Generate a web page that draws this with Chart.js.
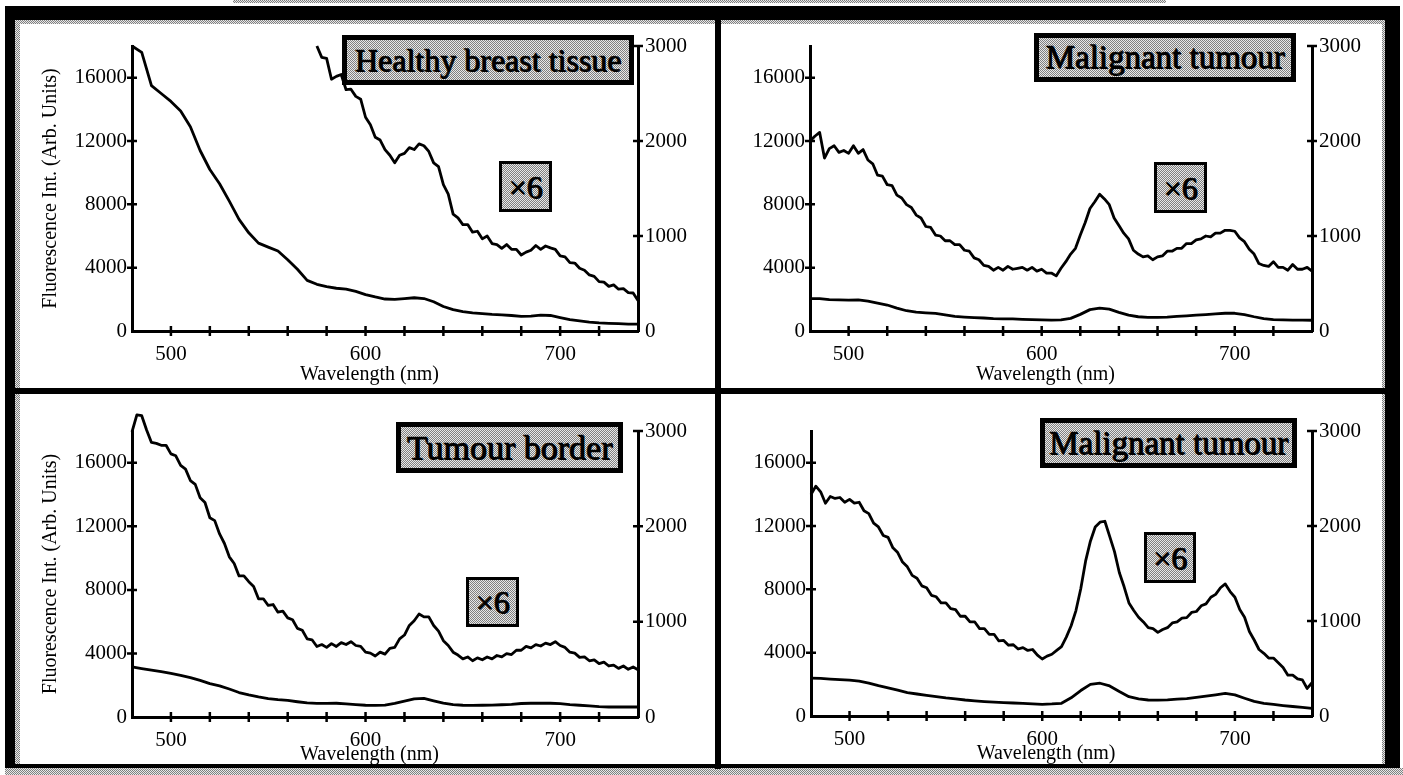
<!DOCTYPE html>
<html><head><meta charset="utf-8">
<script src="https://cdn.jsdelivr.net/npm/chart.js@4.4.1/dist/chart.umd.min.js"></script>
<style>
html,body{margin:0;padding:0}
body{width:1403px;height:775px;position:relative;overflow:hidden;background:#fff;font-family:"Liberation Serif","Times New Roman",serif}
.abs{position:absolute}
.ht{background-color:#b8b8b8;background-image:repeating-conic-gradient(#808080 0% 25%,#e8e8e8 0% 50%);background-size:2px 2px}
.blk{background:#000}
.pnl{background:#fff}
canvas{position:absolute;z-index:2}
.lbl{position:absolute;z-index:3;box-sizing:border-box;border:5px solid #000;display:flex;align-items:center;justify-content:center;font-family:"Liberation Serif","Times New Roman",serif;color:#000;white-space:nowrap;-webkit-text-stroke:0.4px #000;text-shadow:1px 1px 0 #000;line-height:1}
.x6{border-width:3px;font-size:32px}
</style></head>
<body>
<div class="abs ht" style="left:233px;top:0;width:933px;height:3px"></div>
<div class="abs blk" style="left:5px;top:6px;width:1395px;height:763px"></div>
<div class="abs ht" style="left:15px;top:20px;width:1370px;height:749px"></div>
<div class="abs ht" style="left:5px;top:768px;width:1398px;height:7px"></div>
<div class="abs blk" style="left:715px;top:20px;width:6px;height:749px"></div>
<div class="abs blk" style="left:15px;top:388px;width:1370px;height:6px"></div>
<div class="abs blk" style="left:15px;top:764px;width:1370px;height:4px"></div>
<div class="abs pnl" style="left:20px;top:24px;width:695px;height:364px"></div>
<div class="abs pnl" style="left:721px;top:24px;width:661px;height:364px"></div>
<div class="abs pnl" style="left:20px;top:394px;width:695px;height:370px"></div>
<div class="abs pnl" style="left:721px;top:394px;width:661px;height:370px"></div>

<canvas id="c1" width="695" height="364" style="left:20px;top:24px"></canvas>
<canvas id="c2" width="661" height="364" style="left:721px;top:24px"></canvas>
<canvas id="c3" width="695" height="370" style="left:20px;top:394px"></canvas>
<canvas id="c4" width="661" height="370" style="left:721px;top:394px"></canvas>

<div class="lbl ht" style="left:342px;top:35px;width:292px;height:50px;font-size:32px">Healthy breast tissue</div>
<div class="lbl ht x6" style="left:499px;top:161px;width:53px;height:51px">×6</div>
<div class="lbl ht" style="left:1034px;top:33px;width:262px;height:49px;font-size:33px">Malignant tumour</div>
<div class="lbl ht x6" style="left:1154px;top:162px;width:53px;height:51px">×6</div>
<div class="lbl ht" style="left:396px;top:422px;width:227px;height:51px;font-size:34px">Tumour border</div>
<div class="lbl ht x6" style="left:466px;top:577px;width:53px;height:50px">×6</div>
<div class="lbl ht" style="left:1040px;top:418px;width:257px;height:50px;font-size:33px">Malignant tumour</div>
<div class="lbl ht x6" style="left:1144px;top:532px;width:52px;height:51px">×6</div>

<script>
// ---------- DATA ----------
const xTitle = 'Wavelength (nm)';
const yTitle = 'Fluorescence Int. (Arb. Units)';
const xRange = [480, 740];
const yLeftRange = [0, 18000];
const yRightRange = [0, 3000];
const xTicks = [480,500,520,540,560,580,600,620,640,660,680,700,720,740];
const xTickLabels = [500, 600, 700];
const yLeftTicks = [0, 4000, 8000, 12000, 16000];
const yRightTicks = [0, 1000, 2000, 3000];

// wavelength grid for the smooth (unscaled) spectra
const wlMain = [480,485,490,495,500,505,510,515,520,525,530,535,540,545,550,555,560,565,570,575,580,585,590,595,600,605,610,615,620,625,630,635,640,645,650,655,660,665,670,675,680,685,690,695,700,705,710,715,720,725,730,735,740];
// wavelength grid for the noisy x6 spectra
const wlFine = [480,482.5,485,487.5,490,492.5,495,497.5,500,502.5,
505,507.5,510,512.5,515,517.5,520,522.5,525,527.5,
530,532.5,535,537.5,540,542.5,545,547.5,550,552.5,
555,557.5,560,562.5,565,567.5,570,572.5,575,577.5,
580,582.5,585,587.5,590,592.5,595,597.5,600,602.5,
605,607.5,610,612.5,615,617.5,620,622.5,625,627.5,
630,632.5,635,637.5,640,642.5,645,647.5,650,652.5,
655,657.5,660,662.5,665,667.5,670,672.5,675,677.5,
680,682.5,685,687.5,690,692.5,695,697.5,700,702.5,
705,707.5,710,712.5,715,717.5,720,722.5,725,727.5,
730,732.5,735,737.5,740];

// Panel 1: Healthy breast tissue
const healthyMain = [18000,17600,15500,15000,14500,13900,12900,11400,10200,9300,8200,7050,6200,5550,5300,5050,4500,3900,3200,2950,2800,2700,2650,2500,2300,2150,2020,2000,2050,2100,2050,1850,1550,1350,1230,1150,1100,1050,1020,980,920,940,1000,980,850,720,640,560,510,480,460,440,430];
const healthyX6 = [null,null,null,null,null,null,null,null,null,null,
null,null,null,null,null,null,null,null,null,null,
null,null,null,null,null,null,null,null,null,null,
null,null,null,null,null,null,null,null,
3000,2880,2870,2650,2680,2700,2540,2545,2470,2440,
2250,2170,2040,2010,1910,1850,1770,1850,1870,1930,
1910,1970,1950,1890,1770,1730,1540,1440,1230,1190,
1120,1120,1040,1050,970,1000,920,910,870,910,
860,860,800,830,850,900,860,895,875,860,
790,780,720,715,660,640,590,575,520,515,
470,485,440,445,405,400,320];

// Panel 2: Malignant tumour (top)
const malig1Main = [2050,2050,1980,1960,1950,1960,1880,1760,1640,1450,1280,1190,1150,1110,1020,920,880,850,820,780,770,760,740,720,700,690,700,800,1050,1350,1450,1380,1180,1000,900,860,860,880,920,960,1000,1040,1080,1120,1120,1040,900,780,720,700,690,690,680];
const malig1X6 = [2000,2050,2090,1820,1920,1950,1880,1900,1870,1950,
1870,1910,1800,1760,1640,1630,1540,1530,1430,1400,
1330,1300,1220,1190,1100,1090,1010,1000,950,950,
910,910,850,840,770,750,690,680,640,670,
640,680,650,660,670,640,670,630,650,610,
610,580,660,730,810,870,1010,1140,1290,1360,
1440,1390,1330,1190,1110,1030,970,850,810,780,
790,750,780,790,840,840,870,870,920,920,
960,970,1000,990,1030,1030,1060,1060,1050,980,
940,860,810,710,690,680,730,670,670,640,
700,650,650,670,630];

// Panel 3: Tumour border
const borderMain = [3160,3050,2950,2850,2740,2620,2480,2300,2100,1960,1760,1540,1390,1260,1160,1090,1040,960,890,860,860,865,830,780,740,730,745,860,1000,1140,1170,1020,880,780,740,735,740,745,770,800,850,865,865,865,840,780,740,700,650,630,630,630,630];
const borderX6 = [2990,3170,3160,3010,2880,2870,2850,2850,2760,2740,
2640,2600,2480,2440,2300,2250,2090,2060,1920,1820,
1680,1610,1480,1480,1420,1370,1240,1240,1170,1180,
1100,1110,1040,1020,930,910,820,810,740,760,
730,770,740,780,760,790,750,740,680,670,
640,680,660,720,730,820,860,960,1010,1080,
1050,1050,960,900,800,750,680,650,610,630,
590,620,600,630,610,645,630,665,655,700,
700,740,725,760,745,775,760,790,750,730,
680,670,625,630,590,600,560,575,535,545,
510,535,500,525,495];

// Panel 4: Malignant tumour (bottom)
const malig2Main = [2390,2370,2330,2300,2270,2200,2080,1920,1780,1630,1480,1390,1300,1220,1140,1080,1010,960,910,870,840,820,800,770,740,760,800,1150,1610,2000,2070,1900,1550,1220,1080,1010,1000,1020,1060,1100,1170,1250,1340,1430,1330,1120,920,800,730,660,600,540,480];
const malig2X6 = [2330,2420,2360,2240,2310,2290,2300,2250,2280,2240,
2250,2160,2130,2030,1990,1900,1880,1770,1720,1620,
1570,1480,1450,1370,1350,1270,1255,1190,1190,1130,
1120,1050,1050,990,990,920,920,860,860,790,
795,745,750,705,720,690,700,640,600,630,
650,690,730,830,950,1110,1340,1630,1840,1990,
2040,2050,1890,1730,1510,1360,1190,1110,1040,990,
930,920,880,910,930,980,990,1030,1035,1090,
1100,1160,1180,1250,1280,1350,1390,1310,1250,1120,
1040,890,800,700,660,610,610,560,510,430,
430,390,380,290,350];

// ---------- CHARTS ----------
const FONT = '"Liberation Serif", "Times New Roman", serif';

const crossTicks = {
  id: 'crossTicks',
  afterDraw(chart, args, opts) {
    const {ctx, chartArea: a, scales: {x, y, y2}} = chart;
    ctx.save();
    ctx.strokeStyle = '#000';
    ctx.lineWidth = 2.5;
    ctx.beginPath();
    x.ticks.forEach(t => {
      if (t.value <= x.min || t.value >= x.max) return;
      const px = x.getPixelForValue(t.value);
      ctx.moveTo(px, a.bottom - 5); ctx.lineTo(px, a.bottom + 5);
    });
    y.ticks.forEach(t => {
      if (t.value <= 0) return;
      const py = y.getPixelForValue(t.value);
      ctx.moveTo(a.left - 5, py); ctx.lineTo(a.left + 5, py);
    });
    y2.ticks.forEach(t => {
      if (t.value <= 0) return;
      const py = y2.getPixelForValue(t.value);
      ctx.moveTo(a.right - 5, py); ctx.lineTo(a.right + 5, py);
    });
    ctx.stroke();
    ctx.fillStyle = '#000';
    ctx.font = '20px ' + FONT;
    ctx.textAlign = 'center';
    ctx.textBaseline = 'middle';
    ctx.fillText(opts.title, x.getPixelForValue(opts.at), a.bottom + opts.gap);
    ctx.restore();
  }
};

const lineStyle = {borderColor: '#000', borderWidth: 2.8, pointRadius: 0, tension: 0, clip: false, spanGaps: false, borderJoinStyle: 'round', fill: false};
const setTicks = arr => s => { s.ticks = arr.map(v => ({value: v})); };

function build(id, main, x6, cfg) {
  return new Chart(document.getElementById(id), {
    type: 'line',
    data: {datasets: [
      Object.assign({data: wlMain.map((w, i) => ({x: w, y: main[i]})), yAxisID: 'y'}, lineStyle),
      Object.assign({data: wlFine.map((w, i) => ({x: w, y: x6[i]})), yAxisID: 'y2'}, lineStyle)
    ]},
    options: {
      responsive: false, animation: false, devicePixelRatio: 1,
      layout: {padding: {top: cfg.top, left: 0, right: 0, bottom: 0}},
      plugins: {legend: {display: false}, tooltip: {enabled: false},
        crossTicks: {title: xTitle, at: 602, gap: cfg.gap}},
      scales: {
        x: {type: 'linear', position: 'bottom', min: xRange[0], max: xRange[1],
          afterBuildTicks: setTicks(xTicks),
          afterFit: s => { s.height = cfg.xh; },
          grid: {display: false, drawTicks: false},
          border: {display: true, color: '#000', width: 3},
          ticks: {autoSkip: false, maxRotation: 0, padding: 11, color: '#000',
            font: {family: FONT, size: 21}, callback: v => (xTickLabels.includes(v) ? String(v) : '')}
        },
        y: {type: 'linear', position: 'left', min: yLeftRange[0], max: yLeftRange[1],
          afterBuildTicks: setTicks(yLeftTicks),
          afterFit: s => { s.width = cfg.yw; },
          grid: {display: false, drawTicks: false},
          border: {display: true, color: '#000', width: 3},
          ticks: {autoSkip: false, padding: 5, color: '#000',
            font: {family: FONT, size: 21}, callback: v => String(v)},
          title: {display: cfg.yTitle, text: yTitle, color: '#000', font: {family: FONT, size: 20}, padding: {top: 19, bottom: 0}}
        },
        y2: {type: 'linear', position: 'right', min: yRightRange[0], max: yRightRange[1],
          afterBuildTicks: setTicks(yRightTicks),
          afterFit: s => { s.width = cfg.y2w; },
          grid: {display: false, drawTicks: false},
          border: {display: true, color: '#000', width: 3},
          ticks: {autoSkip: false, padding: 7, color: '#000',
            font: {family: FONT, size: 21}, callback: v => String(v)}
        }
      }
    },
    plugins: [crossTicks]
  });
}

build('c1', healthyMain, healthyX6, {top: 22, xh: 57, yw: 112, y2w: 77, gap: 44, yTitle: true});
build('c2', malig1Main, malig1X6, {top: 22, xh: 57, yw: 89, y2w: 70, gap: 44, yTitle: false});
build('c3', borderMain, borderX6, {top: 37, xh: 47, yw: 112, y2w: 77, gap: 38, yTitle: true});
build('c4', malig2Main, malig2X6, {top: 37, xh: 48, yw: 90, y2w: 70, gap: 38, yTitle: false});
</script>
</body></html>
